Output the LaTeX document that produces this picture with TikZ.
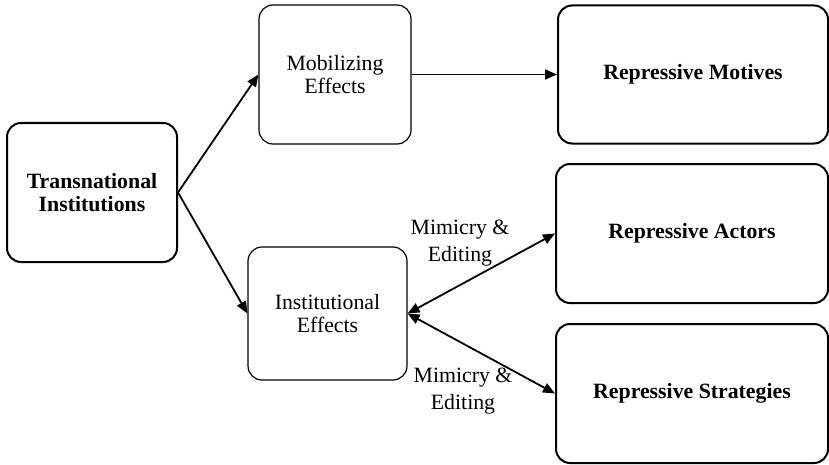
\documentclass[tikz,border=0pt]{standalone}
\usepackage{fontspec}
\setmainfont{Liberation Serif}
\usetikzlibrary{arrows.meta}
\begin{document}
\begin{tikzpicture}[x=0.5pt,y=-0.5pt,
	box/.style={draw,rounded corners=7pt,line width=0.6pt,align=center,
		font=\fontsize{10.9}{11.2}\selectfont},
	bigbox/.style={box,line width=1pt,font=\fontsize{10.9}{11.2}\selectfont\bfseries},
	lbl/.style={align=center,font=\fontsize{10.9}{13.8}\selectfont},
	arr/.style={line width=0.9pt,-{Triangle[length=6pt,width=5pt]}}]
\useasboundingbox (0,0) rectangle (829,465);
\begin{scope}
\coordinate (c1) at (92,192.5);
\coordinate (c2) at (335,74.5);
\coordinate (c3) at (327.5,313.5);

\node[bigbox,minimum width=85pt,minimum height=69.5pt] (trans) at (c1) {Transnational\\Institutions};
\node[box,minimum width=76pt,minimum height=69.5pt] (mob) at (c2) {Mobilizing\\Effects};
\node[box,minimum width=79.5pt,minimum height=66.5pt] (inst) at (c3) {Institutional\\Effects};

% right column
\node[bigbox,minimum width=135pt,minimum height=69pt] (motives) at (693,74.5) {Repressive Motives};
\node[bigbox,minimum width=136pt,minimum height=69.5pt] (actors) at (692,233.5) {Repressive Actors};
\node[bigbox,minimum width=136pt,minimum height=69.5pt] (strat) at (692,393.5) {Repressive Strategies};

\draw[arr] (trans.east) -- (mob.west);
\draw[arr] (trans.east) -- (inst.west);
\draw[arr] (mob.east) -- (motives.west);
\draw[arr,{Triangle[length=6pt,width=5pt]}-{Triangle[length=6pt,width=5pt]}] (inst.east) -- (actors.west);
\draw[arr,{Triangle[length=6pt,width=5pt]}-{Triangle[length=6pt,width=5pt]}] (inst.east) -- (strat.west);

\node[lbl] (m1) at (460,243) {Mimicry \&\\Editing};
\node[lbl] (m2) at (463,391) {Mimicry \&\\Editing};
\end{scope}
\end{tikzpicture}
\end{document}
